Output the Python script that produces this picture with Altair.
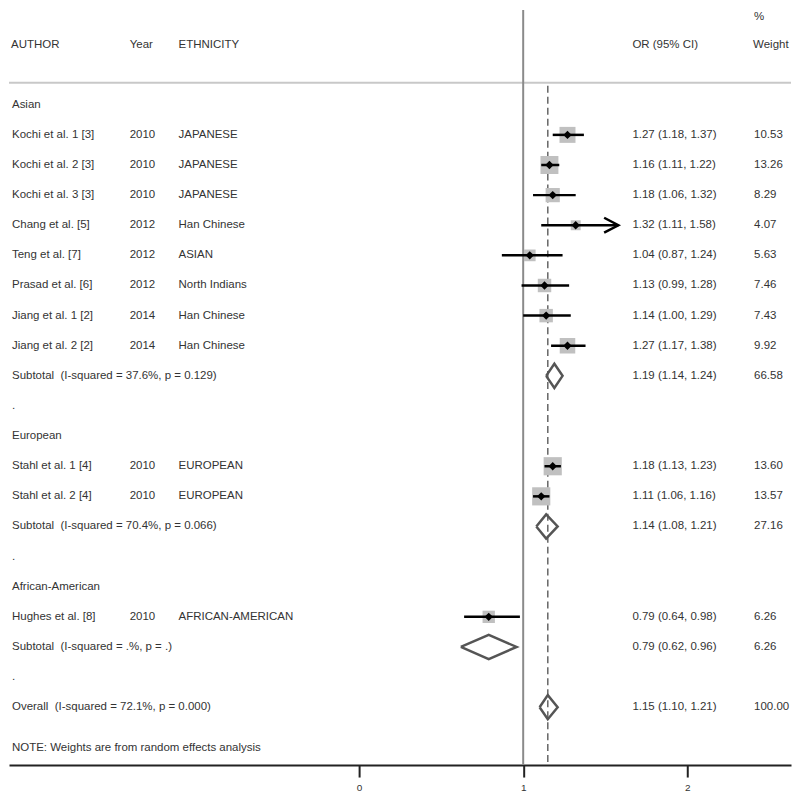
import altair as alt
import pandas as pd

# ---------------- data ----------------
authors = ["Kochi et al. 1 [3]", "Kochi et al. 2 [3]", "Kochi et al. 3 [3]",
           "Chang et al. [5]", "Teng et al. [7]", "Prasad et al. [6]",
           "Jiang et al. 1 [2]", "Jiang et al. 2 [2]",
           "Stahl et al. 1 [4]", "Stahl et al. 2 [4]", "Hughes et al. [8]"]
years = [2010, 2010, 2010, 2012, 2012, 2012, 2014, 2014, 2010, 2010, 2010]
ethnicity = ["JAPANESE", "JAPANESE", "JAPANESE", "Han Chinese", "ASIAN",
             "North Indians", "Han Chinese", "Han Chinese", "EUROPEAN",
             "EUROPEAN", "AFRICAN-AMERICAN"]
or_est = [1.27, 1.16, 1.18, 1.32, 1.04, 1.13, 1.14, 1.27, 1.18, 1.11, 0.79]
ci_lo = [1.18, 1.11, 1.06, 1.11, 0.87, 0.99, 1.00, 1.17, 1.13, 1.06, 0.64]
ci_hi = [1.37, 1.22, 1.32, 1.58, 1.24, 1.28, 1.29, 1.38, 1.23, 1.16, 0.98]
weights = [10.53, 13.26, 8.29, 4.07, 5.63, 7.46, 7.43, 9.92, 13.60, 13.57, 6.26]
study_group = ["Asian"] * 8 + ["European"] * 2 + ["African-American"]
arrow_studies = ["Chang et al. [5]"]

groups = ["Asian", "European", "African-American"]
sub_labels = ["Subtotal\u00a0 (I-squared = 37.6%, p = 0.129)",
              "Subtotal\u00a0 (I-squared = 70.4%, p = 0.066)",
              "Subtotal\u00a0 (I-squared = .%, p = .)"]
sub_est = [1.19, 1.14, 0.79]
sub_lo = [1.14, 1.08, 0.62]
sub_hi = [1.24, 1.21, 0.96]
sub_w = [66.58, 27.16, 6.26]

overall_label = "Overall\u00a0 (I-squared = 72.1%, p = 0.000)"
overall_est, overall_lo, overall_hi, overall_w = 1.15, 1.10, 1.21, 100.00

headers = ["AUTHOR", "Year", "ETHNICITY", "OR (95% CI)", "Weight"]
note_text = "NOTE: Weights are from random effects analysis"
null_value = [1.0]
tick_values = [0, 1, 2]

# ---------------- build tables ----------------
text_rows, study_rows, diamond_rows = [], [], []
r = 0
DH = 0.4  # diamond half height in row units


def add_diamond(name, e, lo, hi, row):
    pts = [(lo, row), (e, row - DH), (hi, row), (e, row + DH), (lo, row)]
    for k, (xv, yv) in enumerate(pts):
        diamond_rows.append(dict(name=name, k=k, x=xv, row=yv))


for gi, g in enumerate(groups):
    text_rows.append(dict(row=r, author=g, year="", eth="", ortxt="", wtxt=""))
    r += 1
    for i, a in enumerate(authors):
        if study_group[i] != g:
            continue
        text_rows.append(dict(row=r, author=a, year=str(years[i]), eth=ethnicity[i],
                              ortxt=f"{or_est[i]:.2f} ({ci_lo[i]:.2f}, {ci_hi[i]:.2f})",
                              wtxt=f"{weights[i]:.2f}"))
        study_rows.append(dict(row=r, author=a, est=or_est[i], lo=ci_lo[i],
                               hi=ci_hi[i], w=weights[i],
                               arrow=a in arrow_studies))
        r += 1
    text_rows.append(dict(row=r, author=sub_labels[gi], year="", eth="",
                          ortxt=f"{sub_est[gi]:.2f} ({sub_lo[gi]:.2f}, {sub_hi[gi]:.2f})",
                          wtxt=f"{sub_w[gi]:.2f}"))
    add_diamond(g, sub_est[gi], sub_lo[gi], sub_hi[gi], r)
    r += 1
    text_rows.append(dict(row=r, author=".", year="", eth="", ortxt="", wtxt=""))
    r += 1

text_rows.append(dict(row=r, author=overall_label, year="", eth="",
                      ortxt=f"{overall_est:.2f} ({overall_lo:.2f}, {overall_hi:.2f})",
                      wtxt=f"{overall_w:.2f}"))
add_diamond("Overall", overall_est, overall_lo, overall_hi, r)

tdf = pd.DataFrame(text_rows)
sdf = pd.DataFrame(study_rows)
ddf = pd.DataFrame(diamond_rows)
adf = sdf[sdf["arrow"]]

# ---------------- scales ----------------
W, H = 784, 757
PX_PER_UNIT = 164.5
X0_PX = 351
ROW0_PX = 95
ROW_PX = 30.2
xscale = alt.Scale(domain=[-X0_PX / PX_PER_UNIT, (W - X0_PX) / PX_PER_UNIT],
                   nice=False, zero=False)
yscale = alt.Scale(domain=[-ROW0_PX / ROW_PX, (H - ROW0_PX) / ROW_PX],
                   nice=False, zero=False, reverse=True)
xaxis = alt.Axis(values=tick_values, title=None, grid=False, labelFontSize=10,
                 labelColor="#333", tickSize=12, tickWidth=2, tickColor="#222",
                 domainColor="#222", domainWidth=2, labelPadding=5,
                 labelFont="Liberation Sans")

FONT = "Liberation Sans"
FS = 11.5
TC = "#333333"


def X(field, **kw):
    return alt.X(field, type="quantitative", scale=xscale, axis=xaxis, **kw)


def Y(field):
    return alt.Y(field, type="quantitative", scale=yscale, axis=None)


# ---------------- layers ----------------
null_df = pd.DataFrame({"x": null_value})
dash_df = pd.DataFrame({"x": [overall_est]})

null_line = alt.Chart(null_df).mark_rule(color="#8a8a8a", strokeWidth=2).encode(
    x=X("x"), y=alt.value(0), y2=alt.value(H))
dash_line = alt.Chart(dash_df).mark_rule(color="#666666", strokeWidth=1.5,
                                         strokeDash=[7, 4]).encode(
    x=X("x"), y=alt.value(76), y2=alt.value(H))
header_line = alt.Chart(null_df).mark_rule(color="#c8c8c8", strokeWidth=2).encode(
    x=alt.value(0), x2=alt.value(W), y=alt.value(73))

boxes = alt.Chart(sdf).mark_square(color="#c0c0c0", opacity=1).encode(
    x=X("est"), y=Y("row"),
    size=alt.Size("w:Q", scale=alt.Scale(domain=[0, 13.26], range=[0, 324]),
                  legend=None))
ci = alt.Chart(sdf).mark_rule(color="black", strokeWidth=2.5).encode(
    x=X("lo"), x2="hi", y=Y("row"))
pts = alt.Chart(sdf).mark_point(shape="diamond", filled=True, color="black",
                                size=70, opacity=1).encode(x=X("est"), y=Y("row"))
arrows = alt.Chart(adf).mark_point(shape="M-1.9,-1L0,0L-1.9,1", filled=False,
                                   stroke="black", strokeWidth=2.5, size=225,
                                   opacity=1).encode(x=X("hi"), y=Y("row"))
diamonds = alt.Chart(ddf).mark_line(color="#555555", strokeWidth=2.5,
                                    strokeJoin="miter").encode(
    x=X("x"), y=Y("row"), detail="name:N", order="k:Q")


def col(field, xpx):
    return alt.Chart(tdf).mark_text(align="left", baseline="middle", font=FONT,
                                    fontSize=FS, color=TC).encode(
        x=alt.value(xpx), y=Y("row"), text=f"{field}:N")


hdr_df = pd.DataFrame({"h": headers, "px": [2, 121, 170, 625, 746]})
hdr = alt.Chart(hdr_df).mark_text(align="left", baseline="middle", font=FONT,
                                  fontSize=FS, color=TC).encode(
    x=alt.X("px:Q", scale=None), y=alt.value(35), text="h:N")
pct = alt.Chart(pd.DataFrame({"t": ["%"]})).mark_text(
    align="left", baseline="middle", font=FONT, fontSize=FS, color=TC).encode(
    x=alt.value(747), y=alt.value(7), text="t:N")
note = alt.Chart(pd.DataFrame({"t": [note_text]})).mark_text(
    align="left", baseline="middle", font=FONT, fontSize=FS, color=TC).encode(
    x=alt.value(3), y=alt.value(740), text="t:N")

chart = alt.layer(
    header_line, null_line, dash_line, boxes, ci, pts, arrows, diamonds,
    col("author", 3), col("year", 121), col("eth", 170), col("ortxt", 625),
    col("wtxt", 747), hdr, pct, note
).properties(width=W, height=H, padding=0, background="white"
).configure_view(stroke=None)

chart.save("out.html", embed_options={"renderer": "svg", "actions": False})
